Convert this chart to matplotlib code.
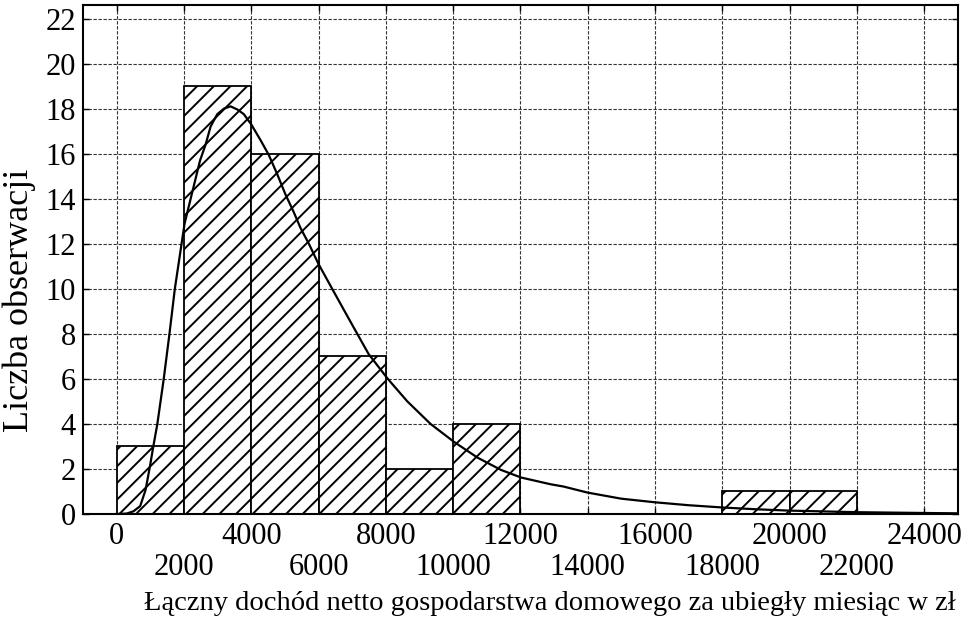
import numpy as np
import matplotlib
matplotlib.use("Agg")
from matplotlib import pyplot as plt

# Dane histogramu (przedzialy co 2000 zl)
bin_edges = [0, 2000, 4000, 6000, 8000, 10000, 12000, 14000, 16000, 18000, 20000, 22000]
counts = [3, 19, 16, 7, 2, 4, 0, 0, 0, 1, 1]

# Krzywa dopasowania
fit_x = [0, 300, 500, 700, 860, 1000, 1090, 1210, 1400, 1570, 1730, 1930, 2020, 2200,
         2480, 2643, 2792, 2990, 3190, 3386, 3600, 3782, 4000, 4277, 4520, 4770, 5015,
         5265, 5465, 5713, 6000, 6406, 6852, 7490, 8060, 8640, 9330, 10030, 10730,
         11420, 12020, 12900, 13280, 14000, 15000, 16000, 17000, 18000, 19000, 20000,
         22000, 24000, 25000]
fit_y = [0, 0.02, 0.12, 0.35, 1.07, 2.2, 3.0, 4.0, 6.0, 8.0, 10.0, 12.0, 12.9, 14.0,
         15.7, 16.4, 17.2, 17.75, 18.0, 18.1, 17.95, 17.75, 17.3, 16.6, 15.95, 15.1, 14.2,
         13.4, 12.7, 12.0, 11.1, 10.0, 8.8, 7.1, 6.0, 5.0, 4.0, 3.2, 2.5,
         1.96, 1.62, 1.32, 1.22, 0.95, 0.68, 0.52, 0.39, 0.29, 0.21, 0.15,
         0.08, 0.045, 0.03]

x_major = [0, 4000, 8000, 12000, 16000, 20000, 24000]
x_minor = [2000, 6000, 10000, 14000, 18000, 22000]
y_ticks = list(range(0, 23, 2))

plt.rcParams["font.family"] = ["Liberation Serif", "DejaVu Serif"]
plt.rcParams["hatch.linewidth"] = 1.4
plt.rcParams["hatch.color"] = "black"

fig = plt.figure(figsize=(9.73, 6.25), dpi=100)
ax = fig.add_axes([0.0853, 0.1776, 0.8990, 0.8144])

szer = np.diff(bin_edges)
ax.bar(bin_edges[:-1], counts, width=szer, align="edge", facecolor="white",
       edgecolor="black", linewidth=1.3, hatch="//", zorder=2)
ax.plot(fit_x, fit_y, color="black", linewidth=1.6, zorder=3)

ax.set_xlim(-1000, 25000)
ax.set_ylim(0, 22.6)

ax.set_xticks(x_major)
ax.set_xticklabels([str(v) for v in x_major])
ax.set_xticks(x_minor, minor=True)
ax.set_xticklabels([str(v) for v in x_minor], minor=True)
ax.set_yticks(y_ticks)

ax.tick_params(axis="both", which="both", direction="in", length=4, width=1,
               top=True, right=True, labelsize=22)
ax.tick_params(axis="x", which="major", pad=6)
ax.tick_params(axis="x", which="minor", pad=28)
ax.tick_params(axis="y", pad=5)

ax.grid(True, which="both", linestyle=(0, (3, 1.5)), linewidth=0.8, color="#333333", zorder=0)
ax.set_axisbelow(True)

for sp in ax.spines.values():
    sp.set_linewidth(1.5)

ax.set_ylabel("Liczba obserwacji", fontsize=26)
ax.yaxis.set_label_coords(-0.054, 0.42)
ax.set_xlabel("Łączny dochód netto gospodarstwa domowego za ubiegły miesiąc w zł", fontsize=20.5)
ax.xaxis.set_label_coords(0.534, -0.151)

fig.savefig("out.png", dpi=100)
